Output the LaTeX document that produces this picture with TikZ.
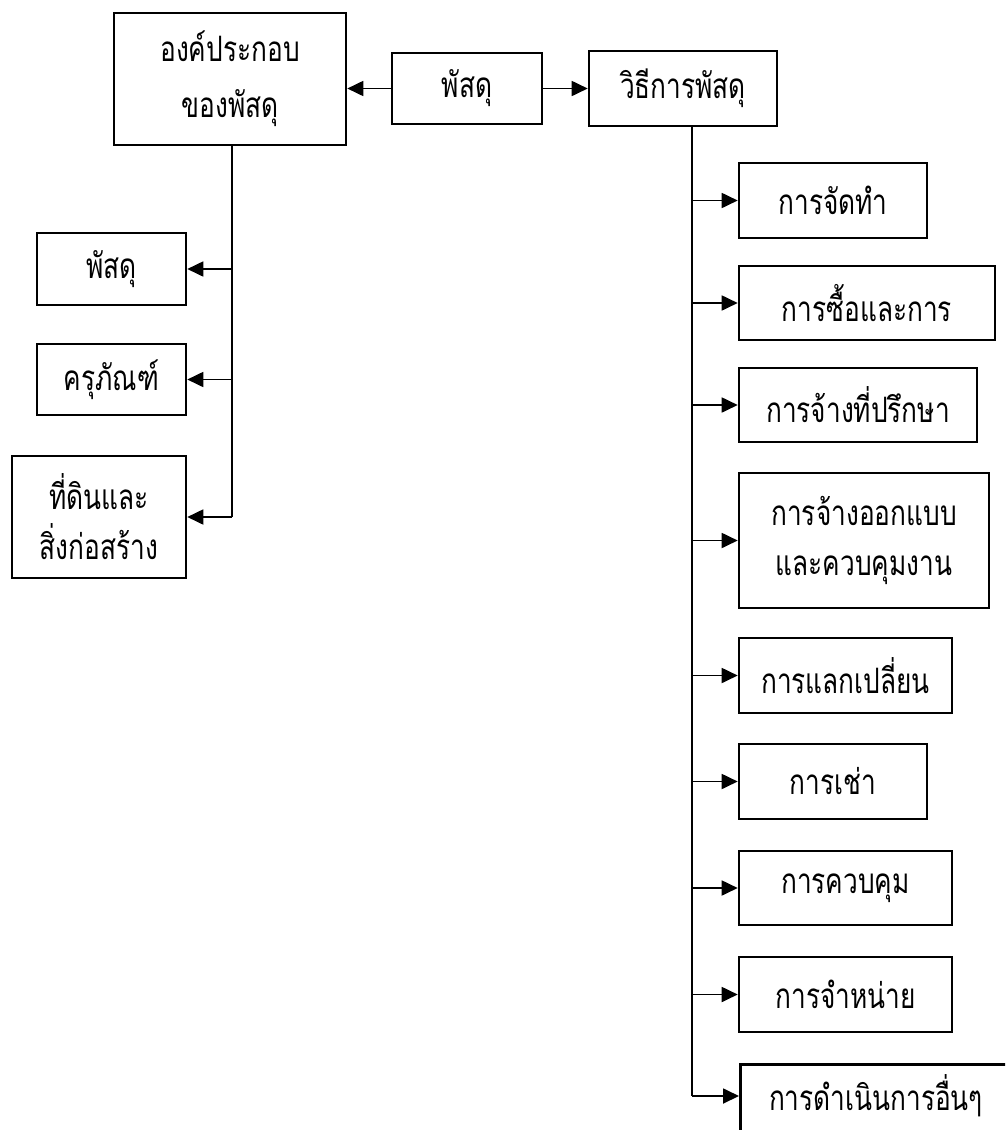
\documentclass[tikz,border=0pt]{standalone}
\usepackage{fontspec}
\newfontfamily\thaifont[Script=Thai,FakeStretch=0.75]{Loma}
\usetikzlibrary{arrows.meta}
\begin{document}
\begin{tikzpicture}[x=1pt,y=-1pt,
  box/.style={draw,line width=2.6pt,inner sep=0pt,align=center,
    font=\thaifont\fontsize{35}{50}\selectfont},
  conn/.style={line width=1.8pt,-{Triangle[length=16pt,width=15pt]}},
  plain/.style={line width=1.8pt}]
\useasboundingbox (0,0) rectangle (1005,1130);
\clip (0,0) rectangle (1005,1130);
% top row
\node[box,minimum width=232pt,minimum height=132pt,font=\thaifont\fontsize{35}{56}\selectfont] (comp) at (230,79) {องค์ประกอบ\\ของพัสดุ};
\node[box,minimum width=150pt,minimum height=71pt] (mat) at (467,88.5) {พัสดุ};
\node[box,minimum width=188pt,minimum height=75pt] (meth) at (683,88.5) {วิธีการพัสดุ};
% left column
\node[box,minimum width=149pt,minimum height=72pt] (l1) at (111.5,269) {พัสดุ};
\node[box,minimum width=149pt,minimum height=71pt] (l2) at (111.5,379.5) {ครุภัณฑ์};
\node[box,minimum width=174pt,minimum height=122pt] (l3) at (99,517) {ที่ดินและ\\สิ่งก่อสร้าง};
% right column
\node[box,minimum width=188pt,minimum height=75pt] (r1) at (833,200.5) {การจัดทำ};
\node[box,minimum width=256pt,minimum height=74pt] (r2) at (867,303) {การซื้อและการ};
\node[box,minimum width=238pt,minimum height=74pt] (r3) at (858,405) {การจ้างที่ปรึกษา};
\node[box,minimum width=250pt,minimum height=135pt] (r4) at (864,540.5) {การจ้างออกแบบ\\และควบคุมงาน};
\node[box,minimum width=213pt,minimum height=75pt] (r5) at (845.5,675.5) {การแลกเปลี่ยน};
\node[box,minimum width=188pt,minimum height=75pt] (r6) at (833,781.5) {การเช่า};
\node[box,minimum width=213pt,minimum height=74pt] (r7) at (845.5,888) {การควบคุม};
\node[box,minimum width=213pt,minimum height=75pt] (r8) at (845.5,994.5) {การจำหน่าย};
\node[box,anchor=north west,minimum width=320pt,minimum height=90pt] (r9) at (739,1063) {};
\node[font=\thaifont\fontsize{35}{50}\selectfont,inner sep=0pt] (r9t) at (876,1096) {การดำเนินการอื่นๆ};
% connectors
\draw[conn] (mat.west) -- (comp.east |- mat.west);
\draw[conn] (mat.east) -- (meth.west);
\coordinate (lt) at (comp.south -| 232,0);
\coordinate (lb) at (232,517);
\draw[plain] (lt) -- (lb);
\draw[conn] (lt |- l1.east) -- (l1.east);
\draw[conn] (lt |- l2.east) -- (l2.east);
\draw[conn] (lb) -- (l3.east);
\coordinate (rt) at (meth.south -| 692,0);
\coordinate (r9in) at ([yshift=-33pt]r9.north west);
\coordinate (rb) at (rt |- r9in);
\draw[plain] (rt) -- (rb);
\foreach \n in {r1,r2,r3,r4,r5,r6,r7,r8}{
  \draw[conn] (rt |- \n.west) -- (\n.west);
}
\draw[conn] (rb) -- (r9in);
\end{tikzpicture}
\end{document}
